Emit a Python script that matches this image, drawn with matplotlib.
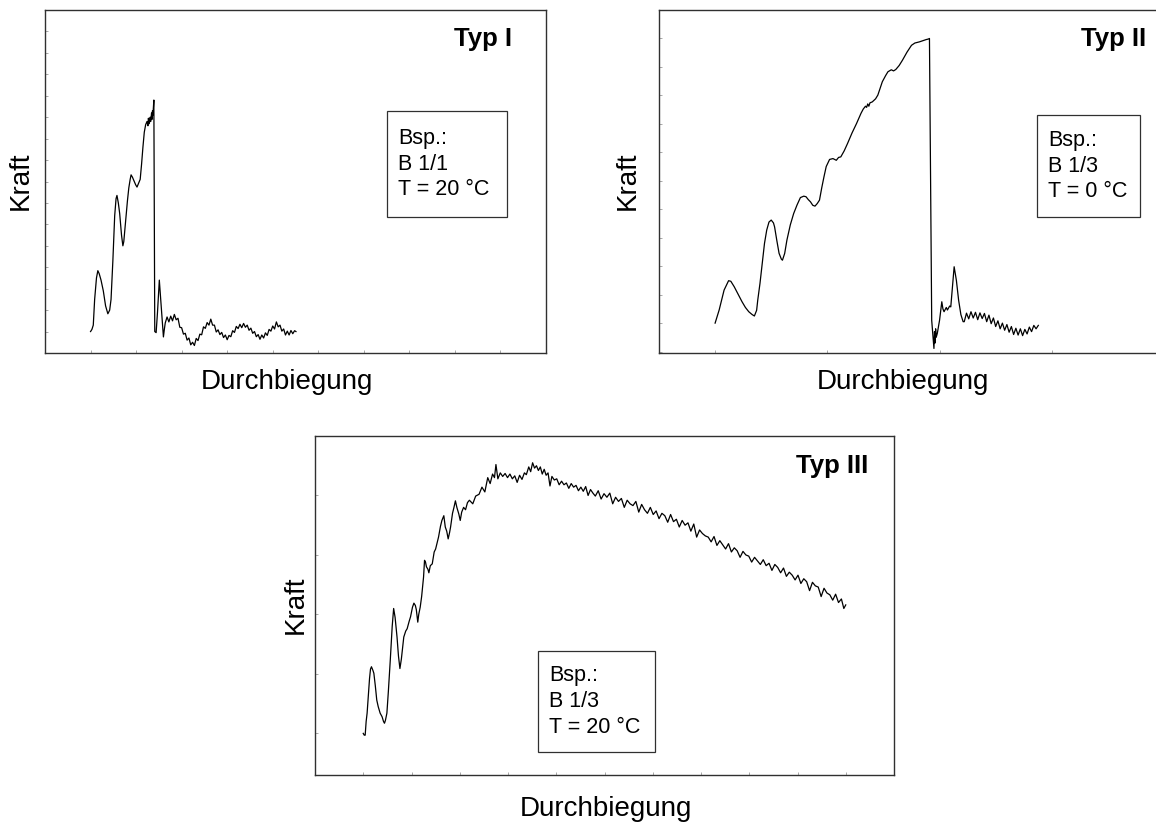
import matplotlib
matplotlib.use("Agg")
import matplotlib.pyplot as plt
from matplotlib.patches import Rectangle
from matplotlib.ticker import MultipleLocator

plt.rcParams["font.family"] = ["Liberation Sans", "DejaVu Sans"]

W, H = 1156, 825

# ── data (x in tick units of Durchbiegung, y in tick units of Kraft) ──

typ1_x = [0.00, 0.03, 0.06, 0.09, 0.13, 0.16, 0.19, 0.23, 0.28, 0.33, 0.38, 0.42,
          0.45, 0.49, 0.53, 0.56, 0.58, 0.61, 0.64, 0.68, 0.71, 0.73, 0.76, 0.78,
          0.81, 0.84, 0.87, 0.89, 0.92, 0.96, 0.99, 1.02, 1.05, 1.09, 1.12, 1.15,
          1.18, 1.21, 1.24, 1.26, 1.27, 1.29, 1.31, 1.32, 1.34, 1.35, 1.36, 1.37,
          1.39, 1.41, 1.44, 1.47, 1.51, 1.53, 1.55, 1.58, 1.60, 1.62,
          1.64, 1.68, 1.72, 1.76, 1.80, 1.84, 1.88, 1.92, 1.96, 2.00, 2.04, 2.08,
          2.12, 2.16, 2.20, 2.24, 2.28, 2.32, 2.36, 2.40, 2.44, 2.48, 2.52, 2.56,
          2.60, 2.64, 2.68, 2.72, 2.76, 2.80, 2.84, 2.88, 2.92, 2.96, 3.00, 3.04,
          3.08, 3.12, 3.16, 3.20, 3.24, 3.28, 3.32, 3.36, 3.40, 3.44, 3.48, 3.52,
          3.56, 3.60, 3.64, 3.68, 3.72, 3.76, 3.80, 3.84, 3.88, 3.92, 3.96, 4.00,
          4.04, 4.08, 4.12, 4.16, 4.20, 4.24, 4.28, 4.32, 4.36, 4.40, 4.44, 4.48,
          4.51]
typ1_y = [0.00, 0.10, 0.30, 1.50, 2.50, 2.84, 2.70, 2.40, 1.90, 1.20, 0.83, 1.00,
          1.50, 3.30, 5.40, 6.20, 6.35, 6.00, 5.50, 4.50, 4.00, 4.20, 4.90, 5.40,
          6.10, 6.70, 7.10, 7.31, 7.20, 7.00, 6.85, 6.74, 6.90, 7.10, 7.80, 8.60,
          9.30, 9.65, 9.80, 9.60, 9.95, 9.70, 10.00, 9.80, 10.20, 9.90, 10.30, 10.10,
          10.80, 0.00, -0.05, 0.90, 2.40, 1.80, 1.20, 0.30, -0.25, 0.10,
          0.40, 0.68, 0.45, 0.72, 0.50, 0.80, 0.55, 0.62, 0.20, 0.18, -0.12, -0.08,
          -0.40, -0.30, -0.62, -0.50, -0.65, -0.32, -0.42, -0.12, -0.15, 0.22, 0.15, 0.42,
          0.30, 0.58, 0.30, 0.30, -0.02, 0.08, -0.14, -0.04, -0.28, -0.16, -0.38, -0.18,
          -0.24, 0.04, -0.04, 0.24, 0.14, 0.34, 0.18, 0.38, 0.20, 0.30, 0.06, 0.16,
          -0.08, 0.00, -0.24, -0.14, -0.36, -0.16, -0.30, -0.06, -0.18, 0.10, 0.02, 0.26,
          0.12, 0.45, 0.22, 0.30, 0.02, 0.12, -0.16, 0.02, -0.16, 0.05, -0.10, 0.04,
          0.00]

typ2_x = [0.00, 0.036, 0.08, 0.12, 0.14, 0.17, 0.20, 0.24, 0.27, 0.30, 0.33, 0.35,
          0.37, 0.38, 0.40, 0.42, 0.44, 0.46, 0.48, 0.50, 0.52, 0.53, 0.55, 0.57,
          0.59, 0.60, 0.62, 0.64, 0.67, 0.70, 0.73, 0.76, 0.79, 0.81, 0.83, 0.85,
          0.87, 0.89, 0.91, 0.93, 0.95, 0.97, 0.99, 1.02, 1.05, 1.08, 1.10, 1.12,
          1.15, 1.18, 1.22, 1.26, 1.30, 1.32, 1.34, 1.35, 1.36, 1.37, 1.38, 1.40,
          1.43, 1.45, 1.47, 1.49, 1.52, 1.54, 1.57, 1.59, 1.61, 1.64, 1.67, 1.71,
          1.75, 1.78, 1.82, 1.85, 1.88, 1.90, 1.91, 1.93, 1.95, 1.955, 1.96, 1.965,
          1.97, 1.98, 2.00, 2.02, 2.03, 2.04, 2.06, 2.07, 2.09, 2.10, 2.12, 2.13,
          2.15, 2.17, 2.19, 2.21, 2.22, 2.24, 2.26, 2.28, 2.30, 2.32, 2.34, 2.36,
          2.38, 2.40, 2.42, 2.44, 2.46, 2.48, 2.50, 2.52, 2.54, 2.56, 2.58, 2.60,
          2.62, 2.64, 2.66, 2.68, 2.70, 2.72, 2.74, 2.76, 2.78, 2.80, 2.82, 2.84,
          2.86, 2.88]
typ2_y = [0.00, 0.46, 1.16, 1.49, 1.47, 1.28, 1.05, 0.75, 0.55, 0.40, 0.30, 0.25,
          0.45, 0.81, 1.40, 2.10, 2.80, 3.27, 3.55, 3.62, 3.52, 3.38, 2.90, 2.45,
          2.25, 2.21, 2.45, 2.92, 3.45, 3.85, 4.15, 4.41, 4.46, 4.44, 4.34, 4.26,
          4.14, 4.11, 4.20, 4.32, 4.75, 5.14, 5.50, 5.75, 5.78, 5.72, 5.82, 5.84,
          6.05, 6.31, 6.68, 7.01, 7.37, 7.52, 7.62, 7.58, 7.70, 7.62, 7.74, 7.77,
          7.88, 8.01, 8.25, 8.48, 8.70, 8.83, 8.90, 8.86, 8.91, 9.05, 9.24, 9.52,
          9.76, 9.84, 9.88, 9.92, 9.96, 9.98, 10.00, 0.10, -0.89, -0.30, -0.70, -0.20,
          -0.50, -0.36, 0.10, 0.75, 0.50, 0.40, 0.55, 0.46, 0.60, 0.57, 1.50, 1.98,
          1.50, 0.80, 0.30, 0.05, 0.05, 0.35, 0.15, 0.40, 0.18, 0.38, 0.12, 0.36,
          0.16, 0.34, 0.05, 0.28, -0.02, 0.18, -0.12, 0.08, -0.20, 0.00, -0.25, -0.05,
          -0.32, -0.12, -0.40, -0.18, -0.42, -0.20, -0.44, -0.22, -0.38, -0.14, -0.30, -0.08,
          -0.20, -0.08]

typ3_x = [0.00, 0.02, 0.04, 0.06, 0.08, 0.11, 0.13, 0.15, 0.17, 0.20, 0.22, 0.25,
          0.28, 0.31, 0.35, 0.39, 0.42, 0.44, 0.46, 0.49, 0.52, 0.56, 0.60, 0.63,
          0.66, 0.70, 0.73, 0.76, 0.79, 0.84, 0.88, 0.91, 0.95, 0.98, 1.02, 1.05,
          1.08, 1.10, 1.13, 1.15, 1.18, 1.21, 1.25, 1.27, 1.29, 1.31, 1.34, 1.36,
          1.39, 1.43, 1.47, 1.50, 1.53, 1.56, 1.60, 1.63, 1.67, 1.70, 1.73, 1.76,
          1.79, 1.81, 1.85, 1.88, 1.91, 1.94, 1.98, 2.01, 2.04, 2.08, 2.12, 2.16,
          2.20, 2.27, 2.33, 2.40, 2.46, 2.52, 2.58, 2.63, 2.68, 2.72, 2.75, 2.79,
          2.84, 2.89, 2.94, 2.99, 3.04, 3.09, 3.14, 3.19, 3.24, 3.29, 3.34, 3.38,
          3.43, 3.47, 3.51, 3.55, 3.59, 3.63, 3.67, 3.71, 3.75, 3.79, 3.83, 3.87,
          3.91, 3.96, 4.01, 4.06, 4.11, 4.16, 4.21, 4.26, 4.31, 4.36, 4.41, 4.46,
          4.51, 4.56, 4.61, 4.66, 4.71, 4.76, 4.81, 4.87, 4.93, 4.99, 5.05, 5.11,
          5.17, 5.23, 5.29, 5.35, 5.41, 5.47, 5.53, 5.59, 5.65, 5.71, 5.77, 5.83,
          5.89, 5.95, 6.01, 6.07, 6.13, 6.19, 6.25, 6.31, 6.37, 6.43, 6.49, 6.55,
          6.61, 6.67, 6.73, 6.79, 6.85, 6.91, 6.97, 7.03, 7.09, 7.15, 7.21, 7.27,
          7.33, 7.39, 7.45, 7.51, 7.57, 7.63, 7.69, 7.75, 7.81, 7.87, 7.93, 7.99,
          8.05, 8.11, 8.17, 8.23, 8.29, 8.35, 8.41, 8.47, 8.53, 8.59, 8.65, 8.71,
          8.77, 8.83, 8.89, 8.95, 9.01, 9.07, 9.13, 9.19, 9.25, 9.31, 9.37, 9.43,
          9.49, 9.55, 9.61, 9.67, 9.73, 9.79, 9.85, 9.91, 9.96, 10.00]
typ3_y = [0.00, -0.03, -0.03, 0.20, 0.34, 0.70, 0.92, 1.08, 1.12, 1.06, 1.01, 0.80,
          0.56, 0.45, 0.34, 0.28, 0.20, 0.17, 0.22, 0.34, 0.70, 1.23, 1.80, 2.10,
          1.95, 1.62, 1.30, 1.09, 1.25, 1.62, 1.72, 1.76, 1.88, 1.96, 2.12, 2.19,
          2.15, 2.08, 1.87, 2.00, 2.12, 2.30, 2.63, 2.91, 2.88, 2.80, 2.76, 2.70,
          2.82, 2.85, 3.05, 3.10, 3.20, 3.30, 3.48, 3.58, 3.66, 3.47, 3.40, 3.27,
          3.38, 3.47, 3.70, 3.80, 3.91, 3.80, 3.69, 3.58, 3.72, 3.80, 3.76, 3.88,
          3.92, 3.86, 3.99, 4.02, 4.14, 4.06, 4.30, 4.20, 4.36, 4.30, 4.52, 4.28,
          4.38, 4.32, 4.37, 4.30, 4.36, 4.28, 4.33, 4.22, 4.34, 4.27, 4.38, 4.35,
          4.48, 4.40, 4.55, 4.46, 4.50, 4.42, 4.48, 4.36, 4.44, 4.34, 4.38, 4.16,
          4.32, 4.26, 4.28, 4.18, 4.24, 4.18, 4.21, 4.12, 4.20, 4.14, 4.17, 4.08,
          4.14, 4.07, 4.15, 4.00, 4.10, 4.04, 3.99, 4.08, 3.94, 4.03, 3.97, 4.04,
          3.86, 3.97, 3.90, 3.95, 3.80, 3.92, 3.86, 3.83, 3.90, 3.72, 3.85, 3.76,
          3.70, 3.80, 3.68, 3.74, 3.61, 3.70, 3.66, 3.55, 3.68, 3.56, 3.60, 3.47,
          3.58, 3.50, 3.54, 3.40, 3.52, 3.30, 3.42, 3.36, 3.32, 3.30, 3.22, 3.31,
          3.16, 3.24, 3.17, 3.10, 3.19, 3.05, 3.12, 3.07, 2.96, 3.06, 3.00, 2.98,
          2.88, 2.96, 2.90, 2.84, 2.92, 2.82, 2.86, 2.74, 2.84, 2.79, 2.70, 2.78,
          2.64, 2.71, 2.66, 2.58, 2.66, 2.52, 2.60, 2.55, 2.40, 2.54, 2.48, 2.46,
          2.30, 2.44, 2.36, 2.33, 2.24, 2.34, 2.20, 2.26, 2.10, 2.16]

panels = [
    # (x, y, xlim, ylim, title, box lines)
    (typ1_x, typ1_y, (-1, 10), (-1, 15), "Typ I", "Bsp.:\nB 1/1\nT = 20 °C"),
    (typ2_x, typ2_y, (-0.5, 4), (-1.05, 11), "Typ II", "Bsp.:\nB 1/3\nT = 0 °C"),
    (typ3_x, typ3_y, (-1, 11), (-0.7, 5), "Typ III", "Bsp.:\nB 1/3\nT = 20 °C"),
]

# pixel boxes: axes (left, top, right, bottom), legend box, title anchor, labels
ax_px = [(45, 10, 546, 353), (659, 10, 1164, 353), (315, 436, 894, 775)]
box_px = [(387, 111, 507, 217), (1037, 115, 1140, 217), (538, 651, 655, 752)]
title_px = [(512, 46), (1146, 46), (868, 473)]
kraft_px = [(21, 181), (628, 181), (296, 605)]
durch_px = [(287, 389), (903, 389), (606, 816)]


def fx(px):
    return px / W


def fy(py):
    return 1 - py / H


fig = plt.figure(figsize=(W / 100, H / 100), dpi=100)

for (x, y, xl, yl, title, info), (l, t, r, b), (bl, bt, br, bb), tp, kp, dp in zip(
        panels, ax_px, box_px, title_px, kraft_px, durch_px):
    ax = fig.add_axes([fx(l), fy(b), fx(r) - fx(l), fy(t) - fy(b)])
    ax.plot(x, y, color="black", linewidth=0.9)
    ax.set_xlim(*xl)
    ax.set_ylim(*yl)
    ax.xaxis.set_major_locator(MultipleLocator(1))
    ax.yaxis.set_major_locator(MultipleLocator(1))
    ax.tick_params(direction="in", length=2.5, width=0.6, color="#9a9a9a",
                   labelbottom=False, labelleft=False)
    for s in ax.spines.values():
        s.set_color("#303030")
        s.set_linewidth(1.0)

    fig.add_artist(Rectangle((fx(bl), fy(bb)), fx(br) - fx(bl), fy(bt) - fy(bb),
                             transform=fig.transFigure, fill=False,
                             edgecolor="#303030", linewidth=0.9))
    fig.text(fx(bl) + 11 / W, fy((bt + bb) / 2), info, fontsize=15.5,
             va="center", ha="left", linespacing=1.3)
    fig.text(fx(tp[0]), fy(tp[1]), title, fontsize=18.5, fontweight="bold",
             ha="right", va="baseline")
    fig.text(fx(kp[0]), fy(kp[1]), "Kraft", fontsize=20, rotation=90,
             ha="center", va="center")
    fig.text(fx(dp[0]), fy(dp[1]), "Durchbiegung", fontsize=20,
             ha="center", va="baseline")

fig.savefig("out.png", dpi=100)
